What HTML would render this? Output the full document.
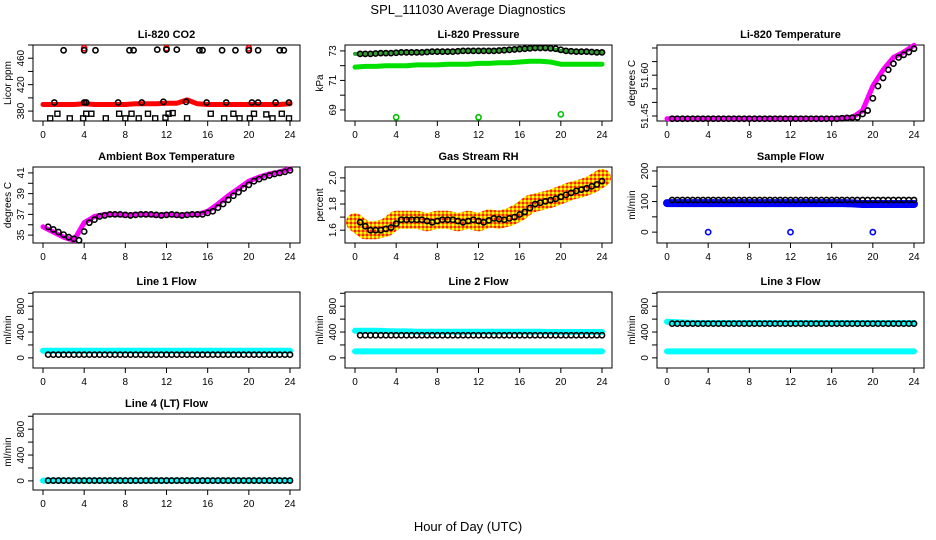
<!DOCTYPE html>
<html><head><meta charset="utf-8"><style>
body{margin:0;background:#fff;width:936px;height:540px;overflow:hidden}
svg{display:block;font-family:"Liberation Sans",sans-serif}
</style></head><body>
<svg id="c" width="936" height="540" viewBox="0 0 936 540">
<defs><pattern id="rhpat" width="4" height="4" patternUnits="userSpaceOnUse"><rect width="4" height="4" fill="#f0a000"/><rect width="2" height="2" fill="#ffff00"/><rect x="2" y="2" width="2" height="2" fill="#ff2000"/></pattern></defs>
<text x="468" y="14" font-size="13" text-anchor="middle">SPL_111030  Average Diagnostics</text>
<text x="468" y="531" font-size="13" text-anchor="middle">Hour of Day (UTC)</text>
</svg>
<script>
const hours = [0,1,2,3,4,5,6,7,8,9,10,11,12,13,14,15,16,17,18,19,20,21,22,23,24];
const xTicks = [0,4,8,12,16,20,24];
const co2Band = [390,390,390,390,391,390,390,390,390,391,391,391,392,392,397,391,390,390,390,390,390,390,390,390,391];
const co2HighX = [2,4,5.1,8.4,8.8,11.1,12,13,15.2,15.5,17.4,18.7,20,20.9,23,23.4];
const co2HighY = [472,472,472,472,472,473,473,473,472,472,472,472,472,472,472,472];
const co2MidX = [1.1,4,4.2,7.3,9.6,11.7,13.9,15.9,17.8,20.3,20.9,22.6,23.9];
const co2MidY = [393,393,393,393,393,394,394,393,393,393,393,393,393];
const co2LowX = [0.7,1.4,2.6,3.9,4.2,4.7,6.1,7.4,8,8.6,9.3,10.2,10.9,11.9,12.2,12.6,14,16.3,17.6,18.5,19.1,20.1,20.5,21.7,22.3,23.2,23.9];
const co2LowY = [369,376,369,369,376,376,369,376,369,376,369,376,369,370,376,377,369,376,369,376,369,369,376,375,369,376,369];
const presBlack = [72.8,72.8,72.85,72.85,72.9,72.9,72.9,72.95,72.95,72.95,73.0,73.0,73.0,73.0,73.05,73.1,73.15,73.2,73.2,73.15,73.0,72.95,72.95,72.9,72.9];
const presGreen = [71.9,71.95,71.95,72.0,72.0,72.0,72.05,72.05,72.05,72.1,72.1,72.1,72.15,72.15,72.2,72.2,72.25,72.3,72.3,72.25,72.1,72.1,72.1,72.1,72.1];
const presOutX = [4,12,20];
const presOutY = [68.5,68.5,68.7];
const tempVals = [51.44,51.44,51.44,51.44,51.44,51.44,51.44,51.44,51.44,51.44,51.44,51.44,51.44,51.44,51.44,51.44,51.44,51.443,51.445,51.47,51.56,51.62,51.665,51.685,51.71];
const ambVals = [35.8,35.3,34.8,34.5,36.2,36.8,37,37,36.9,37,37,36.9,37,36.9,37,37,37.3,38,38.8,39.5,40.2,40.6,40.9,41.1,41.4];
const rhVals = [1.66,1.6,1.6,1.62,1.68,1.68,1.68,1.66,1.68,1.68,1.66,1.68,1.66,1.69,1.68,1.7,1.74,1.8,1.82,1.84,1.87,1.9,1.92,1.95,2.0];
const flowBand = [95,95,95,95,95,95,95,95,95,95,95,95,95,95,95,95,95,95,94,92,92,92,92,92,92];
const flowCirc = [105,105,105,105,105,105,105,105,105,105,105,105,105,105,105,105,105,105,105,105,105,105,105,105,105];
const flowOutX = [4,12,20];
const flowOutY = [0,0,0];
const l1Cyan = [110,110,110,110,110,110,110,110,110,110,110,110,110,110,110,110,110,110,110,110,110,110,110,110,110];
const l1Black = [50,50,50,50,50,50,50,50,50,50,50,50,50,50,50,50,50,50,50,50,50,50,50,50,50];
const l2CyanHi = [420,420,420,415,410,410,405,405,405,405,405,405,405,405,405,405,405,405,405,400,400,400,400,400,400];
const l2CyanLo = [100,100,100,100,100,100,100,100,100,100,100,100,100,100,100,100,100,100,100,100,100,100,100,100,100];
const l2Black = [350,350,350,350,350,350,350,350,350,350,350,350,350,350,350,350,350,350,350,350,350,350,350,350,350];
const l3CyanHi = [560,550,545,540,540,540,540,540,540,540,540,540,540,540,540,540,540,540,540,540,540,540,540,540,540];
const l3CyanLo = [100,100,100,100,100,100,100,100,100,100,100,100,100,100,100,100,100,100,100,100,100,100,100,100,100];
const l3Black = [530,530,530,530,530,530,530,530,530,530,530,530,530,530,530,530,530,530,530,530,530,530,530,530,530];
const l4Cyan = [5,5,5,5,5,5,5,5,5,5,5,5,5,5,5,5,5,5,5,5,5,5,5,5,5];
const l4Black = [5,5,5,5,5,5,5,5,5,5,5,5,5,5,5,5,5,5,5,5,5,5,5,5,5];

const svg=document.getElementById('c');
const NS='http://www.w3.org/2000/svg';
function mk(tag,attrs,parent){const e=document.createElementNS(NS,tag);for(const k in attrs)e.setAttribute(k,attrs[k]);(parent||svg).appendChild(e);return e;}
const colL=[33,345,657], rowT=[45,167,292,414], W=267, H=76;

function panel(ci,ri,title,ylab,ylim,ticks,labels,name){
  const L=colL[ci],T=rowT[ri];
  const g=mk('g',{});
  
  
  const xs=h=>L+10+h/24*247;
  const ys=v=>T+H-(v-ylim[0])/(ylim[1]-ylim[0])*H;
  const r=mk('rect',{x:L,y:T,width:W,height:H,fill:'none',stroke:'#000','stroke-width':1},g);
  
  
  const t=mk('text',{x:L+W/2,y:T-7,'font-size':11,'font-weight':'bold','text-anchor':'middle'},g);t.textContent=title;
  
  
  const xa=mk('g',{},g);
  
  
  xTicks.forEach(h=>{mk('line',{x1:xs(h),x2:xs(h),y1:T+H,y2:T+H+5,stroke:'#000'},xa);
    const tx=mk('text',{x:xs(h),y:T+H+17,'font-size':10,'text-anchor':'middle'},xa);tx.textContent=h;});
  const ya=mk('g',{},g);
  
  
  ticks.forEach((v,i)=>{const y=ys(v);mk('line',{x1:L,x2:L-5,y1:y,y2:y,stroke:'#000'},ya);
    if(labels[i]!==''){const tx=mk('text',{x:0,y:0,'font-size':10,'text-anchor':'middle',transform:`translate(${L-9},${y}) rotate(-90)`},ya);tx.textContent=labels[i];}});
  const yl=mk('text',{x:0,y:0,'font-size':10,'text-anchor':'middle',transform:`translate(${L-22},${T+H/2}) rotate(-90)`},g);yl.textContent=ylab;
  
  
  return {g,xs,ys};
}
function band(p,vals,color,w,name){
  const d=vals.map((v,i)=>(i?'L':'M')+p.xs(hours[i]).toFixed(1)+','+p.ys(v).toFixed(1)).join('');
  const e=mk('path',{d:d,fill:'none',stroke:color,'stroke-width':w,'stroke-linejoin':'round','stroke-linecap':'round'},p.g);
  
  
}
function circles(p,xv,yv,color,name,rad){
  xv.forEach((x,i)=>{const e=mk('circle',{cx:p.xs(x),cy:p.ys(yv[i]),r:rad||2.6,fill:'none',stroke:color,'stroke-width':1.6},p.g);
    
    });
}
function squares(p,xv,yv,name){
  xv.forEach((x,i)=>{const e=mk('rect',{x:p.xs(x)-2.5,y:p.ys(yv[i])-2.5,width:5,height:5,fill:'none',stroke:'#000','stroke-width':1.4},p.g);
    
    });
}
function dense(vals){const xv=[],yv=[];for(let i=0;i<vals.length-1;i++){for(let k=0;k<2;k++){const h=hours[i]+0.5+k*0.5;if(h<=24){xv.push(h);yv.push(vals[i]+(vals[i+1]-vals[i])*(k/2));}}}return [xv,yv];}
function circSeries(p,vals,color,name){const [xv,yv]=dense(vals);circles(p,xv,yv,color,name);}

let p=panel(0,0,'Li-820 CO2','Licor ppm',[365,480],[380,400,420,440,460,480],['380','','420','','460',''],'co2-panel');
band(p,co2Band,'#ff0000',5,'co2-red-series');
circles(p,[4,12,20],[475,475,475],'#ff0000','co2-red-high');
circles(p,co2HighX,co2HighY,'#000','co2-high-points');
circles(p,co2MidX,co2MidY,'#000','co2-mid-points');
squares(p,co2LowX,co2LowY,'co2-low-points');
p=panel(1,0,'Li-820 Pressure','kPa',[68.25,73.4],[69,70,71,72,73],['69','','71','','73'],'pressure-panel');
band(p,presGreen,'#00e000',5,'pressure-green-series');
band(p,presBlack,'#30a030',4,'pressure-band');
circSeries(p,presBlack,'#000','pressure-black-points');
circles(p,presOutX,presOutY,'#00c000','pressure-outliers');
p=panel(2,0,'Li-820 Temperature','degrees C',[51.4316,51.711],[51.45,51.5,51.55,51.6,51.65,51.7],['51.45','','','51.60','',''],'temperature-panel');
band(p,tempVals,'#ff00ff',5,'temperature-magenta-series');
circSeries(p,tempVals,'#000','temperature-black-points');
p=panel(0,1,'Ambient Box Temperature','degrees C',[34.24,41.57],[35,36,37,38,39,40,41],['35','','37','','39','','41'],'ambient-panel');
band(p,ambVals,'#ff00ff',5,'ambient-magenta-series');
circSeries(p,ambVals,'#000','ambient-black-points');
p=panel(1,1,'Gas Stream RH','percent',[1.502,2.083],[1.6,1.7,1.8,1.9,2.0],['1.6','','1.8','','2.0'],'rh-panel');
band(p,rhVals,'url(#rhpat)',18,'rh-orange-series');
circSeries(p,rhVals,'#000','rh-black-points');
p=panel(2,1,'Sample Flow','ml/min',[-35.5,213],[0,50,100,150,200],['0','','100','','200'],'sample-flow-panel');
band(p,flowBand,'#0000ff',8,'sample-flow-blue-series');
circSeries(p,flowCirc,'#000','sample-flow-black-points');
circles(p,flowOutX,flowOutY,'#0000ff','sample-flow-outliers');
const fT=[0,200,400,600,800,1000], fL=['0','','400','','800',''];
p=panel(0,2,'Line 1 Flow','ml/min',[-157,1020],fT,fL,'line1-panel');
band(p,l1Cyan,'#00ffff',6,'line1-cyan-series');
circSeries(p,l1Black,'#000','line1-black-points');
p=panel(1,2,'Line 2 Flow','ml/min',[-157,1020],fT,fL,'line2-panel');
band(p,l2CyanHi,'#00ffff',6,'line2-cyan-high');
band(p,l2CyanLo,'#00ffff',6,'line2-cyan-low');
circSeries(p,l2Black,'#000','line2-black-points');
p=panel(2,2,'Line 3 Flow','ml/min',[-157,1020],fT,fL,'line3-panel');
band(p,l3CyanHi,'#00ffff',6,'line3-cyan-high');
band(p,l3CyanLo,'#00ffff',6,'line3-cyan-low');
circSeries(p,l3Black,'#000','line3-black-points');
p=panel(0,3,'Line 4 (LT) Flow','ml/min',[-141,1035],fT,fL,'line4-panel');
band(p,l4Cyan,'#00ffff',6,'line4-cyan-series');
circSeries(p,l4Black,'#000','line4-black-points');
</script>
</body></html>
